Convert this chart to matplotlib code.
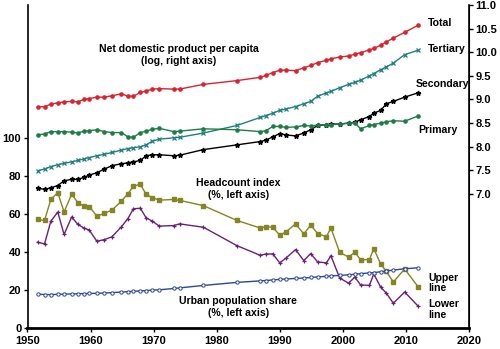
import numpy as np
import matplotlib
matplotlib.use("Agg")
import matplotlib.pyplot as plt

plt.rcParams['font.family'] = ['Liberation Sans', 'DejaVu Sans']
plt.rcParams['font.weight'] = 'bold'

# survey years (mid-points)
years = [1951.6, 1952.7, 1953.7, 1954.8, 1955.8, 1957.0, 1958.0, 1958.9, 1959.8,
         1961.0, 1962.2, 1963.4, 1964.9, 1965.9, 1966.8, 1967.9, 1968.8, 1969.8,
         1970.9, 1973.2, 1974.1, 1977.9, 1983.2, 1986.9, 1987.8, 1988.9, 1990.0,
         1991.0, 1992.5, 1993.8, 1994.9, 1996.0, 1997.4, 1998.1, 1999.5, 2000.9,
         2001.9, 2002.8, 2004.2, 2004.9, 2006.0, 2006.9, 2008.0, 2009.8, 2011.9]

# headcount index, % (left axis)
upper_line = [57.0, 56.5, 67.6, 71.2, 61.0, 70.3, 65.9, 64.1, 63.8,
              58.8, 60.2, 62.0, 66.7, 70.5, 74.6, 75.6, 70.3, 68.5,
              67.2, 67.6, 67.1, 64.3, 56.5, 52.5, 53.2, 52.9, 48.7,
              50.5, 54.7, 49.4, 54.0, 49.6, 47.9, 52.6, 39.6, 37.2,
              39.7, 35.8, 35.8, 41.6, 33.5, 29.6, 24.0, 30.9, 21.6]
lower_line = [45.0, 44.1, 56.1, 60.9, 49.1, 58.3, 54.4, 52.6, 51.4,
              45.5, 46.4, 47.9, 53.2, 57.4, 62.7, 62.9, 57.9, 56.1,
              53.5, 53.8, 54.7, 52.9, 43.2, 38.1, 38.8, 38.8, 34.1,
              36.7, 41.1, 35.3, 39.0, 34.6, 34.1, 37.9, 26.1, 23.4,
              26.6, 22.5, 22.2, 28.2, 21.3, 18.1, 12.8, 18.7, 11.4]
urban_share = [17.6, 17.4, 17.4, 17.5, 17.6, 17.7, 17.8, 17.9, 18.0,
               18.0, 18.2, 18.4, 18.7, 18.9, 19.1, 19.3, 19.5, 19.7,
               19.9, 20.6, 20.9, 22.2, 23.8, 24.6, 24.8, 25.1, 25.4,
               25.6, 25.9, 26.1, 26.4, 26.7, 27.0, 27.2, 27.5, 27.8,
               28.1, 28.4, 28.8, 29.0, 29.4, 29.8, 30.3, 31.0, 31.5]

# log net domestic product per capita (right axis)
ndp_total = [8.84, 8.85, 8.90, 8.93, 8.95, 8.96, 8.95, 9.00, 9.02,
             9.05, 9.05, 9.08, 9.12, 9.07, 9.07, 9.15, 9.18, 9.22,
             9.23, 9.22, 9.22, 9.32, 9.40, 9.47, 9.51, 9.57, 9.62,
             9.62, 9.61, 9.67, 9.72, 9.78, 9.83, 9.86, 9.90, 9.92,
             9.96, 9.99, 10.05, 10.08, 10.15, 10.22, 10.30, 10.42, 10.57]
ndp_tertiary = [7.49, 7.53, 7.58, 7.62, 7.65, 7.68, 7.71, 7.74, 7.77,
                7.81, 7.84, 7.88, 7.93, 7.96, 7.98, 8.00, 8.04, 8.12,
                8.16, 8.19, 8.20, 8.29, 8.45, 8.62, 8.66, 8.71, 8.77,
                8.80, 8.85, 8.91, 8.96, 9.07, 9.14, 9.17, 9.25, 9.32,
                9.36, 9.41, 9.50, 9.55, 9.63, 9.69, 9.77, 9.95, 10.04]
ndp_secondary = [7.12, 7.10, 7.13, 7.18, 7.28, 7.31, 7.31, 7.35, 7.40,
                 7.45, 7.53, 7.60, 7.64, 7.66, 7.68, 7.71, 7.81, 7.83,
                 7.83, 7.81, 7.82, 7.94, 8.04, 8.11, 8.14, 8.21, 8.28,
                 8.25, 8.23, 8.29, 8.36, 8.45, 8.47, 8.48, 8.48, 8.50,
                 8.52, 8.57, 8.64, 8.71, 8.77, 8.91, 8.96, 9.05, 9.14]
ndp_primary = [8.25, 8.27, 8.32, 8.32, 8.32, 8.31, 8.29, 8.33, 8.34,
               8.36, 8.32, 8.30, 8.30, 8.21, 8.20, 8.30, 8.33, 8.37,
               8.39, 8.32, 8.33, 8.38, 8.36, 8.32, 8.34, 8.43, 8.43,
               8.41, 8.42, 8.45, 8.44, 8.46, 8.47, 8.47, 8.48, 8.50,
               8.51, 8.38, 8.45, 8.47, 8.50, 8.53, 8.55, 8.54, 8.65]

fig = plt.figure(figsize=(5, 3.49), dpi=100)
ax = fig.add_axes([0.055, 0.0616, 0.883, 0.9241])
ax2 = ax.twinx()

# left axis series
ax.plot(years, upper_line, color='#858524', marker='s', ms=2.6, lw=1.0)
ax.plot(years, lower_line, color='#6a2077', marker='+', ms=3.5, mew=0.9, lw=1.0)
ax.plot(years, urban_share, color='#2b4796', marker='o', ms=2.4, mfc='white',
        mew=0.7, lw=1.0)

# right axis series
ax2.plot(years, ndp_total, color='#d9232e', marker='o', ms=2.3, lw=1.0)
ax2.plot(years, ndp_tertiary, color='#1f7f83', marker='x', ms=2.8, mew=0.9, lw=1.0)
ax2.plot(years, ndp_secondary, color='black', marker='*', ms=3.5, lw=1.0)
ax2.plot(years, ndp_primary, color='#1e7d47', marker='o', ms=2.3, lw=1.0)

ax.set_xlim(1950, 2020)
ax.set_ylim(0, 170.2)
ax2.set_ylim(4.175, 11.0)
ax.set_xticks(range(1950, 2021, 10))
ax.set_yticks(range(0, 101, 20))
ax2.set_yticks(np.arange(7.0, 11.01, 0.5))
ax2.set_yticklabels(['%.1f' % v for v in np.arange(7.0, 11.01, 0.5)])

for a in (ax, ax2):
    a.spines['top'].set_visible(False)
    a.tick_params(labelsize=8, length=3, width=1, pad=1.5)
ax.tick_params(axis='x', pad=3)
ax.spines['left'].set_linewidth(1.2)
ax.spines['bottom'].set_linewidth(2)
ax2.spines['right'].set_linewidth(1.2)
ax2.spines['left'].set_visible(False)
ax2.spines['bottom'].set_visible(False)

txt = dict(fontsize=7.6, fontweight='bold')
ax2.text(1974.0, 9.94, 'Net domestic product per capita\n(log, right axis)',
         ha='center', va='center', linespacing=1.2, **txt)
ax2.text(2013.5, 10.61, 'Total', ha='left', va='center', **txt)
ax2.text(2013.5, 10.06, 'Tertiary', ha='left', va='center', **txt)
ax2.text(2011.5, 9.33, 'Secondary', ha='left', va='center', **txt)
ax2.text(2012.0, 8.35, 'Primary', ha='left', va='center', **txt)
ax.text(1983.4, 73.0, 'Headcount index\n(%, left axis)',
        ha='center', va='center', linespacing=1.2, **txt)
ax.text(1983.4, 10.8, 'Urban population share\n(%, left axis)',
        ha='center', va='center', linespacing=1.2, **txt)
ax.text(2013.5, 23.5, 'Upper\nline', ha='left', va='center', linespacing=1.1, **txt)
ax.text(2013.5, 9.5, 'Lower\nline', ha='left', va='center', linespacing=1.1, **txt)

fig.savefig('out.png', dpi=100)
